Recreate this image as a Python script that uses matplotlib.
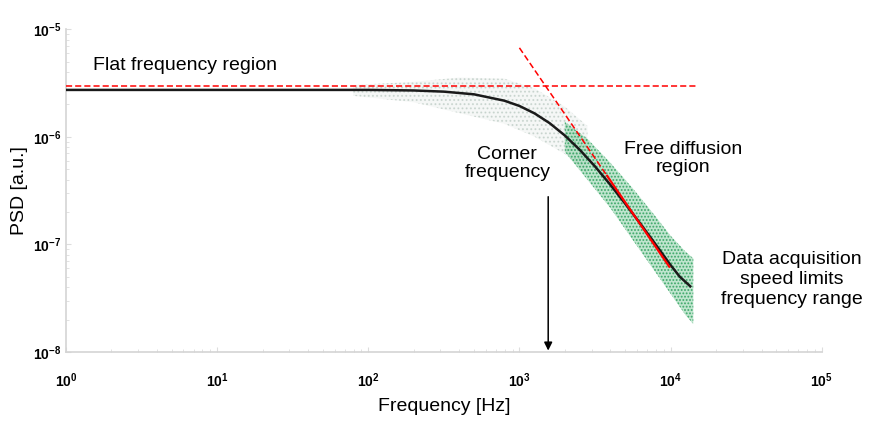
import numpy as np
import matplotlib
matplotlib.use('Agg')
import matplotlib.pyplot as plt

plt.rcParams['font.family'] = ['Liberation Sans', 'DejaVu Sans']
plt.rcParams['mathtext.fontset'] = 'custom'
plt.rcParams['mathtext.rm'] = 'Liberation Sans'
plt.rcParams['mathtext.bf'] = 'Liberation Sans:bold'
plt.rcParams['hatch.linewidth'] = 0.9

# fitted PSD curve (log10 f, log10 PSD)
fit_logf = [0.0, 1.0, 2.0, 2.3, 2.5, 2.7, 2.9, 3.0, 3.1, 3.2, 3.3, 3.4,
            3.5, 3.6, 3.7, 3.8, 3.9, 4.0, 4.06, 4.13]
fit_logpsd = [-5.565, -5.565, -5.565, -5.570, -5.581, -5.606, -5.665, -5.714,
              -5.783, -5.874, -5.988, -6.123, -6.276, -6.444, -6.623, -6.808,
              -6.999, -7.193, -7.30, -7.39]

# spread of measured points (sparse grey part and dense green part)
grey_logf = [1.9, 2.3, 2.6, 2.9, 3.1, 3.3, 3.45]
grey_hi = [-5.52, -5.49, -5.45, -5.46, -5.55, -5.72, -5.90]
grey_lo = [-5.62, -5.68, -5.78, -5.88, -6.00, -6.16, -6.35]

green_logf = [3.3, 3.45, 3.6, 3.75, 3.9, 4.0, 4.1, 4.15]
green_hi = [-5.86, -6.02, -6.24, -6.48, -6.74, -6.92, -7.07, -7.13]
green_lo = [-6.14, -6.40, -6.66, -6.96, -7.26, -7.46, -7.66, -7.74]

# asymptotes
flat_f = [1, 1.5e4]
flat_psd = [2.98e-6, 2.98e-6]
diff_f_dash = [1000, 3800]
diff_psd_dash = [6.7e-6, 4.33e-7]
diff_f_solid = [3800, 9800]
diff_psd_solid = [4.33e-7, 6.2e-8]

corner_f = 1550

xticks = [1, 10, 100, 1000, 1e4, 1e5]
xlabels = [r'$\mathbf{10^{%d}}$' % k for k in range(0, 6)]
yticks = [1e-8, 1e-7, 1e-6, 1e-5]
ylabels = [r'$\mathbf{10^{%d}}$' % k for k in (-8, -7, -6, -5)]

fig = plt.figure(figsize=(8.78, 4.22), dpi=100)
ax = fig.add_axes([0.075, 0.166, 0.861, 0.765])
ax.set_xscale('log')
ax.set_yscale('log')

ax.fill_between(10 ** np.array(grey_logf), 10 ** np.array(grey_lo), 10 ** np.array(grey_hi),
                facecolor=(0.80, 0.84, 0.81, 0.18), edgecolor=(0.55, 0.65, 0.6, 0.35),
                hatch='....', linewidth=0)
ax.fill_between(10 ** np.array(green_logf), 10 ** np.array(green_lo), 10 ** np.array(green_hi),
                facecolor=(0.45, 0.78, 0.58, 0.45), edgecolor=(0.12, 0.6, 0.32, 0.8),
                hatch='.....', linewidth=0)

ax.plot(10 ** np.array(fit_logf), 10 ** np.array(fit_logpsd), color='#1a1a1a', lw=1.8, zorder=3)
ax.plot(flat_f, flat_psd, color='red', lw=1.1, ls=(0, (4, 2)), zorder=4)
ax.plot(diff_f_dash, diff_psd_dash, color='red', lw=1.1, ls=(0, (4, 2)), zorder=4)
ax.plot(diff_f_solid, diff_psd_solid, color='red', lw=1.6, zorder=4)

ax.annotate('', xy=(corner_f, 1.03e-8), xytext=(corner_f, 2.77e-7),
            arrowprops=dict(arrowstyle='-|>', color='black', lw=1.1,
                            mutation_scale=12, shrinkA=0, shrinkB=0))

ax.text(10 ** 0.18, 4.6e-6, 'Flat frequency region', fontsize=14, va='center')
ax.text(10 ** 2.92, 5.6e-7, 'Corner\nfrequency', fontsize=14, ha='center', va='center',
        linespacing=1.1)
ax.text(10 ** 4.08, 6.3e-7, 'Free diffusion\nregion', fontsize=14, ha='center', va='center',
        linespacing=1.1)
ax.text(10 ** 4.8, 4.7e-8, 'Data acquisition\nspeed limits\nfrequency range', fontsize=14,
        ha='center', va='center', linespacing=1.25)

ax.set_xlim(1, 1e5)
ax.set_ylim(1e-8, 1e-5)
ax.set_xticks(xticks)
ax.set_xticklabels(xlabels, fontsize=10)
ax.set_yticks(yticks)
ax.set_yticklabels(ylabels, fontsize=10)
ax.tick_params(which='both', direction='in', color='#dddddd')
ax.tick_params(axis='y', pad=3)
ax.tick_params(axis='x', pad=14)

for s in ('top', 'right'):
    ax.spines[s].set_visible(False)
for s in ('left', 'bottom'):
    ax.spines[s].set_color('#d4d4d4')
    ax.spines[s].set_linewidth(1.2)

ax.set_xlabel('Frequency [Hz]', fontsize=14, labelpad=6)
ax.set_ylabel('PSD [a.u.]', fontsize=14, labelpad=4)

fig.savefig('out.png', dpi=100)
